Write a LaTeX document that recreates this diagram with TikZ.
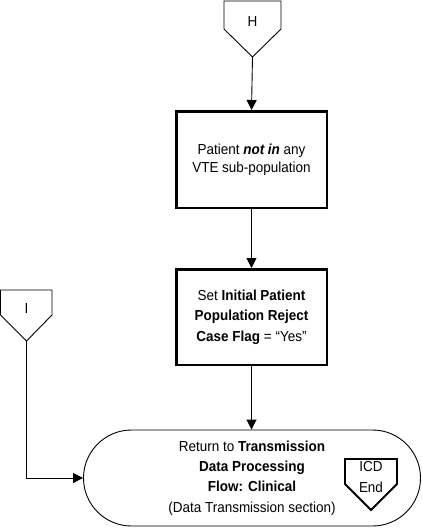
\documentclass[tikz,border=0pt]{standalone}
\usepackage{fontspec}
\setmainfont{Liberation Sans}[FakeStretch=0.93]
\usetikzlibrary{arrows.meta,shapes.misc}
\begin{document}
\begin{tikzpicture}[x=1pt,y=-1pt,
  txt/.style={font=\fontsize{14.5}{20.3}\selectfont, align=center, inner sep=0pt},
  procbox/.style={txt, draw, line width=2.5pt, minimum width=150.5pt},
  termbox/.style={txt, draw, line width=0.9pt, rounded rectangle, minimum width=337pt, minimum height=96pt},
  offpage/.style={draw, line width=0.9pt},
  offpagethick/.style={draw, line width=1.8pt},
  flow/.style={line width=0.9pt, -{Triangle[length=10pt,width=10pt]}}
]
\useasboundingbox (0,0) rectangle (422,528);
% off-page connector H
\draw[offpage] (224,1) -- (281,1) -- (281,29) -- (252.5,57) -- (224,29) -- cycle;
\node[txt] (H) at (252.5,22) {H};
\coordinate (Htip) at (252.5,57);
% off-page connector I
\draw[offpage] (0.5,290) -- (52,290) -- (52,315) -- (26.5,341) -- (0.5,315) -- cycle;
\node[txt] (I) at (26.5,309) {I};
\coordinate (Itip) at (26.5,341);
% process boxes
\node[procbox, minimum height=96.5pt] (b1) at (251.5,159.5) {Patient \textbf{\textit{not in}} any\\[-2pt]VTE sub-population};
\node[procbox, minimum height=95.5pt] (b2) at (251.5,317) {Set \textbf{Initial Patient}\\\textbf{Population Reject}\\\textbf{Case Flag} = “Yes”};
% terminator
\node[termbox] (term) at (252,478) {Return to \textbf{Transmission}\\\textbf{Data Processing}\\\textbf{Flow: Clinical}\\(Data Transmission section)};
% ICD End connector
\draw[offpagethick] (345,459) -- (397,459) -- (397,484) -- (371,510) -- (345,484) -- cycle;
\node[txt] (icd) at (371,477) {ICD\\End};
% connectors
\draw[flow] (Htip) -- (b1.north);
\draw[flow] (b1.south) -- (b2.north);
\draw[flow] (b2.south) -- (term.north -| b2.south);
\draw[flow] (Itip) |- (term.west);
\end{tikzpicture}
\end{document}
